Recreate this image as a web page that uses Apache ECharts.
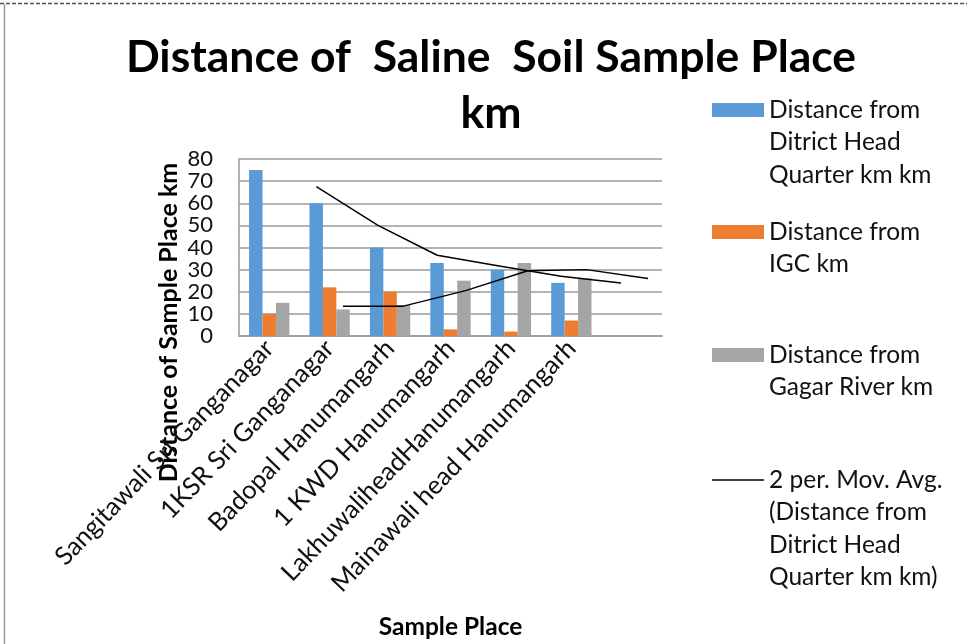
<!DOCTYPE html>
<html>
<head>
<meta charset="utf-8">
<script src="https://cdn.jsdelivr.net/npm/echarts@6/dist/echarts.min.js"></script>
<style>
  html, body { margin: 0; padding: 0; background: #fff; }
  #chart { width: 967px; height: 644px; }
</style>
</head>
<body>
<div id="chart"></div>
<script>
// Sample places (last slot left empty, as on the sheet)
const categories = [
  'Sangitawali Sri Ganganagar',
  '1KSR Sri Ganganagar',
  'Badopal Hanumangarh',
  '1 KWD Hanumangarh',
  'LakhuwaliheadHanumangarh',
  'Mainawali head Hanumangarh',
  ''
];

// Distances in km
const districtHQ = [75, 60, 40, 33, 30, 24];
const igc        = [10, 22, 20, 3, 2, 7];
const gagarRiver = [15, 12, 14, 25, 33, 26];

// 2-period moving average trend lines (x in category units, y in km)
const maDistrictPos = [1.28, 2.30, 3.28, 4.33, 5.33, 6.32];
const maDistrictVal = [67.5, 50, 36.5, 31.5, 27, 24];
const maRiverPos    = [1.72, 2.72, 3.75, 4.78, 5.75, 6.77];
const maRiverVal    = [13.5, 13.5, 20.5, 29.5, 30, 26];

const yTicks = { min: 0, max: 80, interval: 10 };

const seriesNames = {
  hq: 'Distance from Ditrict Head Quarter km km',
  igc: 'Distance from IGC km',
  river: 'Distance from Gagar River km',
  ma: '2 per. Mov. Avg. (Distance from Ditrict Head Quarter km km)'
};
const legendLines = {};
legendLines[seriesNames.hq] = ['Distance from', 'Ditrict Head', 'Quarter km km'];
legendLines[seriesNames.igc] = ['Distance from', 'IGC km'];
legendLines[seriesNames.river] = ['Distance from', 'Gagar River km'];
legendLines[seriesNames.ma] = ['2 per. Mov. Avg.', '(Distance from', 'Ditrict Head', 'Quarter km km)'];

const FONT = 'Lato';
const LEGEND_LH = 32.5;

function pairs(xs, ys) { return xs.map((x, i) => [x, ys[i]]); }

// One legend block per series; the key lines up with the first text line
function legendBlock(name, centerY, icon, iconHeight) {
  const n = legendLines[name].length;
  const total = 2 * n - 1;
  return {
    data: [{ name: name, icon: icon }],
    orient: 'vertical',
    left: 707,
    top: centerY - 5 - total * LEGEND_LH / 2,
    itemWidth: 52,
    itemHeight: iconHeight,
    selectedMode: false,
    formatter: nm => '\n'.repeat(legendLines[nm].length - 1) + legendLines[nm].join('\n'),
    textStyle: { fontFamily: FONT, fontSize: 24.5, color: '#111', lineHeight: LEGEND_LH }
  };
}

const chart = echarts.init(document.getElementById('chart'), null, { renderer: 'canvas' });

chart.setOption({
  animation: false,
  backgroundColor: '#fff',
  title: {
    text: 'Distance of  Saline  Soil Sample Place\nkm',
    left: 491,
    top: 30,
    padding: 0,
    textAlign: 'center',
    textStyle: { fontFamily: FONT, fontWeight: 'bold', fontSize: 44.5, lineHeight: 56, color: '#000' }
  },
  legend: [
    legendBlock(seriesNames.hq, 110, 'rect', 14),
    legendBlock(seriesNames.igc, 232, 'rect', 14),
    legendBlock(seriesNames.river, 355, 'rect', 14),
    legendBlock(seriesNames.ma, 480, 'rect', 1.5)
  ],
  grid: { left: 239, right: 305, top: 159, bottom: 308, containLabel: false },
  xAxis: [
    {
      type: 'category',
      data: categories,
      name: 'Sample Place',
      nameLocation: 'middle',
      nameGap: 279,
      nameTextStyle: { fontFamily: FONT, fontWeight: 'bold', fontSize: 24.5, color: '#000' },
      axisLine: { lineStyle: { color: '#9a9a9a', width: 1.5 } },
      axisTick: { show: false },
      axisLabel: { rotate: 46, margin: 8, interval: 0, fontFamily: FONT, fontSize: 25.5, color: '#111' }
    },
    { type: 'value', min: 0, max: 7, show: false }
  ],
  yAxis: {
    type: 'value',
    min: yTicks.min,
    max: yTicks.max,
    interval: yTicks.interval,
    name: 'Distance of Sample Place km',
    nameLocation: 'middle',
    nameGap: 58,
    nameTextStyle: { fontFamily: FONT, fontWeight: 'bold', fontSize: 25, color: '#000', padding: [0, 150, 0, 0] },
    axisLine: { show: true, lineStyle: { color: '#9a9a9a', width: 1.5 } },
    axisTick: { show: false },
    splitLine: { lineStyle: { color: '#9a9a9a', width: 1.5 } },
    axisLabel: { margin: 26, fontFamily: FONT, fontSize: 22, color: '#111' }
  },
  series: [
    { name: seriesNames.hq, type: 'bar', data: districtHQ, barGap: '0%', barCategoryGap: '33.3%', itemStyle: { color: '#5B9BD5' } },
    { name: seriesNames.igc, type: 'bar', data: igc, itemStyle: { color: '#ED7D31' } },
    { name: seriesNames.river, type: 'bar', data: gagarRiver, itemStyle: { color: '#A5A5A5' } },
    {
      name: seriesNames.ma, type: 'line', xAxisIndex: 1, data: pairs(maDistrictPos, maDistrictVal),
      symbol: 'none', lineStyle: { color: '#000', width: 1.5 }, itemStyle: { color: '#000' }
    },
    {
      name: 'ma-river', type: 'line', xAxisIndex: 1, data: pairs(maRiverPos, maRiverVal),
      symbol: 'none', lineStyle: { color: '#000', width: 1.5 }, itemStyle: { color: '#000' }
    }
  ],
  graphic: [
    { type: 'line', shape: { x1: 0, y1: 3.5, x2: 967, y2: 3.5 }, style: { stroke: '#4a5068', lineWidth: 1.5, lineDash: [4, 2] }, silent: true },
    { type: 'line', shape: { x1: 4.5, y1: 4, x2: 4.5, y2: 644 }, style: { stroke: '#9a9a9a', lineWidth: 1.5 }, silent: true }
  ]
});
</script>
</body>
</html>
